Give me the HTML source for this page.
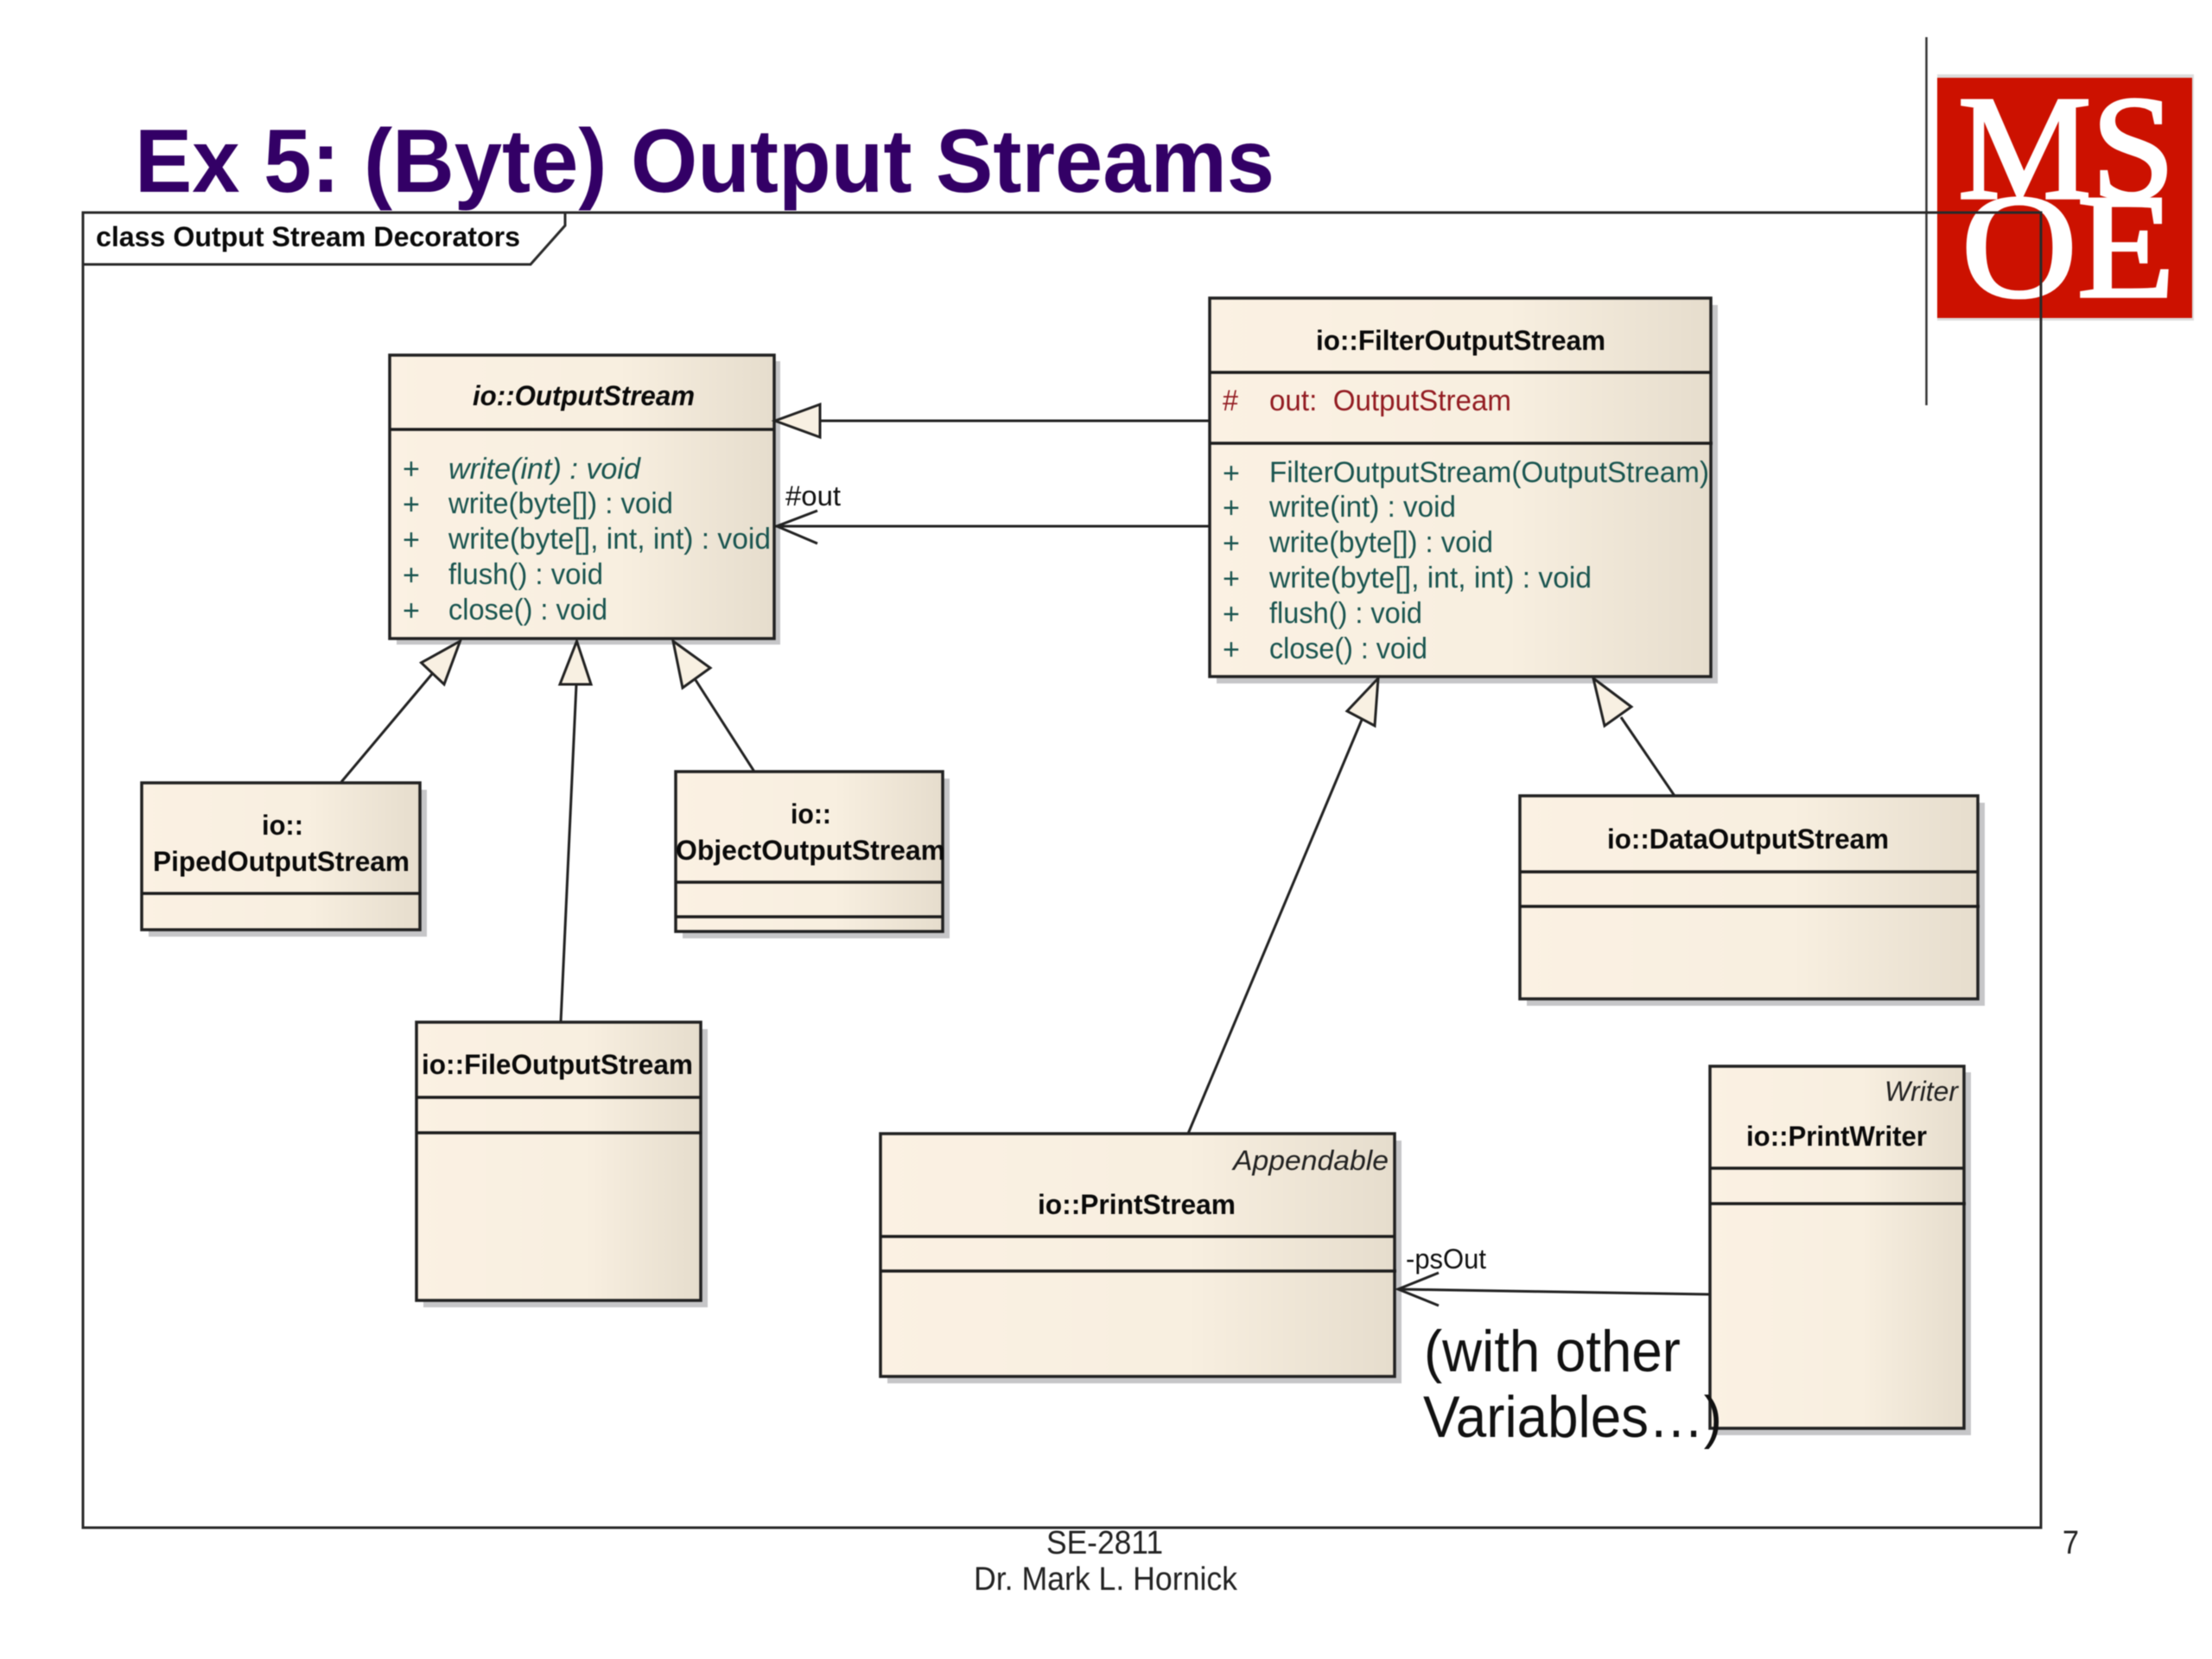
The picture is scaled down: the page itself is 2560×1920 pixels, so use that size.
<!DOCTYPE html>
<html lang="en">
<head>
<meta charset="utf-8">
<title>Ex 5: (Byte) Output Streams</title>
<style>
html,body{margin:0;padding:0;background:#fff;width:2560px;height:1920px;overflow:hidden}
svg{display:block;filter:blur(.6px)}
text{font-family:"Liberation Sans",sans-serif}
.t{font-weight:bold;font-size:32px;fill:#0a0a0a}
.ti{font-weight:bold;font-style:italic;font-size:32px;fill:#0a0a0a}
.m{font-size:34px;fill:#1a5550}
.mi{font-size:34px;font-style:italic;fill:#1a5550}
.a{font-size:34px;fill:#931c22}
.s{font-size:32px;font-style:italic;fill:#222}
.l{font-size:32px;fill:#111}
.f{font-size:38px;fill:#222}
.b{fill:url(#g);stroke:#222;stroke-width:3.5}
.sh{fill:#c6c6c8}
.d{stroke:#1c1c1c;stroke-width:3.5}
.c{stroke:#222;stroke-width:3;fill:none}
.h{fill:#f8f0e2;stroke:#222;stroke-width:3;stroke-linejoin:miter}
</style>
</head>
<body>
<svg width="2560" height="1920" viewBox="0 0 2560 1920" xmlns="http://www.w3.org/2000/svg">
<defs>
<linearGradient id="g" x1="0" y1="0" x2="1" y2="0">
<stop offset="0" stop-color="#fbf1e3"/>
<stop offset=".6" stop-color="#f8efe0"/>
<stop offset="1" stop-color="#e6ddcd"/>
</linearGradient>
</defs>
<rect width="2560" height="1920" fill="#fff"/>

<!-- Logo -->
<rect x="2242" y="86" width="297" height="285" fill="#dcdcdc"/>
<rect x="2242" y="90" width="295" height="278" fill="#cc1100"/>
<text x="2266" y="229" font-size="172" textLength="251" lengthAdjust="spacingAndGlyphs" style="font-family:'Liberation Serif',serif;fill:#fff;stroke:#fff;stroke-width:3.5">MS</text>
<text x="2270" y="343" font-size="172" textLength="247" lengthAdjust="spacingAndGlyphs" style="font-family:'Liberation Serif',serif;fill:#fff;stroke:#fff;stroke-width:3.5">OE</text>
<line x1="2229.5" y1="43" x2="2229.5" y2="469" stroke="#333" stroke-width="2.5"/>

<!-- Title -->
<text x="156" y="222" font-size="104" font-weight="bold" fill="#330066" textLength="1319" lengthAdjust="spacingAndGlyphs">Ex 5: (Byte) Output Streams</text>

<!-- Frame -->
<rect x="96" y="246" width="2266" height="1522" fill="none" stroke="#2a2a2a" stroke-width="3"/>
<polyline points="654,246 654,261 614,306 96,306" fill="none" stroke="#2a2a2a" stroke-width="3"/>
<text x="111" y="285" class="t" textLength="491" lengthAdjust="spacingAndGlyphs">class Output Stream Decorators</text>

<!-- Shadows -->
<rect class="sh" x="459" y="418" width="444" height="328"/>
<rect class="sh" x="1408" y="353" width="580" height="438"/>
<rect class="sh" x="172" y="914" width="322" height="170"/>
<rect class="sh" x="790" y="901" width="309" height="185"/>
<rect class="sh" x="490" y="1191" width="329" height="322"/>
<rect class="sh" x="1767" y="929" width="530" height="235"/>
<rect class="sh" x="1027" y="1320" width="595" height="281"/>
<rect class="sh" x="1987" y="1241" width="294" height="420"/>

<!-- Connectors -->
<line class="c" x1="949" y1="487" x2="1400" y2="487"/>
<polyline class="c" points="1400,609 897,609"/>
<polyline class="c" points="946,591 899,609 946,629"/>
<line class="c" x1="500" y1="780" x2="395" y2="905"/>
<line class="c" x1="667" y1="792" x2="649" y2="1183"/>
<line class="c" x1="805" y1="787" x2="873" y2="893"/>
<line class="c" x1="1576" y1="833" x2="1375" y2="1312"/>
<line class="c" x1="1876" y1="830" x2="1938" y2="921"/>
<line class="c" x1="1979" y1="1498" x2="1618" y2="1492"/>
<polyline class="c" points="1665,1473 1618,1492 1665,1511"/>

<!-- OutputStream -->
<rect class="b" x="451" y="411" width="445" height="328"/>
<line class="d" x1="451" y1="497" x2="896" y2="497"/>
<text x="547" y="469" class="ti" textLength="257" lengthAdjust="spacingAndGlyphs">io::OutputStream</text>
<text x="466" y="554" class="m">+</text>
<text x="466" y="595" class="m">+</text>
<text x="466" y="636" class="m">+</text>
<text x="466" y="677" class="m">+</text>
<text x="466" y="718" class="m">+</text>
<text x="519" y="554" class="mi" textLength="222" lengthAdjust="spacingAndGlyphs">write(int) : void</text>
<text x="519" y="594" class="m" textLength="260" lengthAdjust="spacingAndGlyphs">write(byte[]) : void</text>
<text x="519" y="635" class="m" textLength="373" lengthAdjust="spacingAndGlyphs">write(byte[], int, int) : void</text>
<text x="519" y="676" class="m" textLength="179" lengthAdjust="spacingAndGlyphs">flush() : void</text>
<text x="519" y="717" class="m" textLength="184" lengthAdjust="spacingAndGlyphs">close() : void</text>

<!-- FilterOutputStream -->
<rect class="b" x="1400" y="345" width="580" height="438"/>
<line class="d" x1="1400" y1="431" x2="1980" y2="431"/>
<line class="d" x1="1400" y1="513" x2="1982" y2="513"/>
<text x="1523" y="405" class="t" textLength="335" lengthAdjust="spacingAndGlyphs">io::FilterOutputStream</text>
<text x="1415" y="475" class="a" textLength="18" lengthAdjust="spacingAndGlyphs">#</text>
<text x="1469" y="475" class="a" xml:space="preserve" textLength="280" lengthAdjust="spacingAndGlyphs">out:  OutputStream</text>
<text x="1415" y="559" class="m">+</text>
<text x="1415" y="599" class="m">+</text>
<text x="1415" y="640" class="m">+</text>
<text x="1415" y="681" class="m">+</text>
<text x="1415" y="722" class="m">+</text>
<text x="1415" y="763" class="m">+</text>
<text x="1469" y="558" class="m" textLength="509" lengthAdjust="spacingAndGlyphs">FilterOutputStream(OutputStream)</text>
<text x="1469" y="598" class="m" textLength="216" lengthAdjust="spacingAndGlyphs">write(int) : void</text>
<text x="1469" y="639" class="m" textLength="259" lengthAdjust="spacingAndGlyphs">write(byte[]) : void</text>
<text x="1469" y="680" class="m" textLength="373" lengthAdjust="spacingAndGlyphs">write(byte[], int, int) : void</text>
<text x="1469" y="721" class="m" textLength="177" lengthAdjust="spacingAndGlyphs">flush() : void</text>
<text x="1469" y="762" class="m" textLength="183" lengthAdjust="spacingAndGlyphs">close() : void</text>

<!-- PipedOutputStream -->
<rect class="b" x="164" y="906" width="322" height="170"/>
<line class="d" x1="164" y1="1034" x2="486" y2="1034"/>
<text x="303" y="966" class="t" textLength="48" lengthAdjust="spacingAndGlyphs">io::</text>
<text x="177" y="1008" class="t" textLength="297" lengthAdjust="spacingAndGlyphs">PipedOutputStream</text>

<!-- ObjectOutputStream -->
<rect class="b" x="782" y="893" width="309" height="185"/>
<line class="d" x1="782" y1="1021" x2="1091" y2="1021"/>
<line class="d" x1="782" y1="1061" x2="1091" y2="1061"/>
<text x="915" y="953" class="t" textLength="47" lengthAdjust="spacingAndGlyphs">io::</text>
<text x="782" y="995" class="t" textLength="312" lengthAdjust="spacingAndGlyphs">ObjectOutputStream</text>

<!-- FileOutputStream -->
<rect class="b" x="482" y="1183" width="329" height="322"/>
<line class="d" x1="482" y1="1270" x2="811" y2="1270"/>
<line class="d" x1="482" y1="1311" x2="812" y2="1311"/>
<text x="488" y="1243" class="t" textLength="314" lengthAdjust="spacingAndGlyphs">io::FileOutputStream</text>

<!-- DataOutputStream -->
<rect class="b" x="1759" y="921" width="530" height="235"/>
<line class="d" x1="1759" y1="1009" x2="2289" y2="1009"/>
<line class="d" x1="1759" y1="1049" x2="2291" y2="1049"/>
<text x="1860" y="982" class="t" textLength="326" lengthAdjust="spacingAndGlyphs">io::DataOutputStream</text>

<!-- PrintStream -->
<rect class="b" x="1019" y="1312" width="595" height="281"/>
<line class="d" x1="1019" y1="1431" x2="1614" y2="1431"/>
<line class="d" x1="1019" y1="1471" x2="1616" y2="1471"/>
<text x="1427" y="1354" class="s" textLength="180" lengthAdjust="spacingAndGlyphs">Appendable</text>
<text x="1201" y="1405" class="t" textLength="229" lengthAdjust="spacingAndGlyphs">io::PrintStream</text>

<!-- PrintWriter -->
<rect class="b" x="1979" y="1234" width="294" height="419"/>
<line class="d" x1="1979" y1="1352" x2="2273" y2="1352"/>
<line class="d" x1="1979" y1="1393" x2="2275" y2="1393"/>
<text x="2181" y="1274" class="s" textLength="85" lengthAdjust="spacingAndGlyphs">Writer</text>
<text x="2021" y="1326" class="t" textLength="209" lengthAdjust="spacingAndGlyphs">io::PrintWriter</text>

<!-- Arrowheads -->
<polygon class="h" points="897,487 949,468 949,506"/>
<polygon class="h" points="532.5,742 487.5,767 514,792"/>
<polygon class="h" points="667.5,742 648,792 684,792"/>
<polygon class="h" points="779,742 822,773 790,796"/>
<polygon class="h" points="1595,785 1559,823 1591,840"/>
<polygon class="h" points="1844,785 1888,818 1857,840"/>

<!-- Labels -->
<text x="909" y="585" class="l" textLength="64" lengthAdjust="spacingAndGlyphs">#out</text>
<text x="1627" y="1468" class="l" textLength="93" lengthAdjust="spacingAndGlyphs">-psOut</text>
<text x="1648" y="1587" font-size="68" fill="#111" textLength="297" lengthAdjust="spacingAndGlyphs">(with other</text>
<text x="1647" y="1663" font-size="68" fill="#111" textLength="346" lengthAdjust="spacingAndGlyphs">Variables…)</text>

<!-- Footer -->
<text x="1211" y="1798" class="f" textLength="135" lengthAdjust="spacingAndGlyphs">SE-2811</text>
<text x="1127" y="1840" class="f" textLength="305" lengthAdjust="spacingAndGlyphs">Dr. Mark L. Hornick</text>
<text x="2387" y="1798" class="f" textLength="19" lengthAdjust="spacingAndGlyphs">7</text>
</svg>
</body>
</html>
